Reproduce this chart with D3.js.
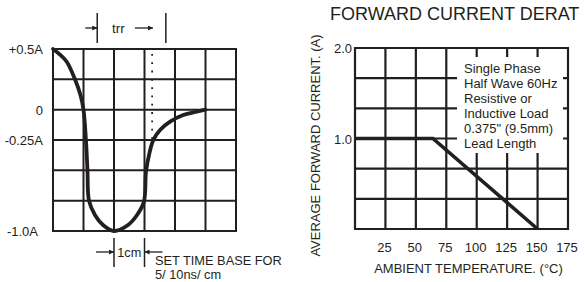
<!DOCTYPE html>
<html>
<head>
<meta charset="utf-8">
<script src="https://cdn.jsdelivr.net/npm/d3@7"></script>
<style>
  html, body { margin: 0; padding: 0; background: #fff; }
  svg { display: block; font-family: "Liberation Sans", Arial, sans-serif; }
</style>
</head>
<body>
<svg id="chart" width="584" height="282"></svg>
<script>
// ---------- Data: left chart (reverse recovery waveform) ----------
const waveX = [0, 0.2, 0.45, 0.72, 0.9, 1.0, 1.08, 1.13, 1.18, 1.38, 1.64, 2.0, 2.46, 2.75, 2.98, 3.05, 3.16, 3.29, 3.51, 3.84, 4.27, 4.71, 5.0];
const waveY = [0.5, 0.46, 0.395, 0.25, 0.12, 0, -0.25, -0.5, -0.75, -0.87, -0.95, -1.0, -0.95, -0.87, -0.76, -0.51, -0.36, -0.25, -0.167, -0.099, -0.044, -0.017, 0];
const leftTickVals = [0.5, 0, -0.25, -1.0];
const leftTickLabels = ["+0.5A", "0", "-0.25A", "-1.0A"];
const leftXDivs = [0, 1, 2, 3, 4, 5, 6];
const leftYDivs = [0.5, 0.25, 0, -0.25, -0.5, -0.75, -1.0];
const dottedX = 3.25;
const trrStart = 1.45, trrEnd = 3.7;
const oneCmStart = 2, oneCmEnd = 3;

// ---------- Data: right chart (forward current derating) ----------
const derateTemp = [0, 64, 150];
const derateCurrent = [1.0, 1.0, 0];
const tempTicks = [25, 50, 75, 100, 125, 150, 175];
const tempGrid = [0, 25, 50, 75, 100, 125, 150, 175];
const currentGrid = [0, 1/3, 2/3, 1, 4/3, 5/3, 2];
const currentTickVals = [2.0, 1.0];
const currentTickLabels = ["2.0", "1.0"];
const noteLines = ["Single Phase", "Half Wave 60Hz", "Resistive or", "Inductive Load", "0.375\" (9.5mm)", "Lead Length"];

const INK = "#231f20";
const svg = d3.select("#chart");

// ---------- Left chart ----------
const xL = d3.scaleLinear().domain([0, 6]).range([53, 236]);
const yL = d3.scaleLinear().domain([-1, 0.5]).range([231, 49]);
const gL = svg.append("g");

gL.selectAll("line.vx").data(leftXDivs).join("line")
  .attr("x1", d => xL(d)).attr("x2", d => xL(d))
  .attr("y1", yL(0.5)).attr("y2", yL(-1))
  .attr("stroke", INK).attr("stroke-width", 2);
gL.selectAll("line.hy").data(leftYDivs).join("line")
  .attr("y1", d => yL(d)).attr("y2", d => yL(d))
  .attr("x1", xL(0) - 1).attr("x2", xL(6) + 1)
  .attr("stroke", INK).attr("stroke-width", 2);

// dotted marker
gL.append("line")
  .attr("x1", xL(dottedX)).attr("x2", xL(dottedX))
  .attr("y1", yL(0.5) + 5).attr("y2", yL(-0.25))
  .attr("stroke", INK).attr("stroke-width", 1.8)
  .attr("stroke-dasharray", "1.8,6.5");

// waveform
const wave = waveX.map((x, i) => [x, waveY[i]]);
gL.append("path")
  .datum(wave)
  .attr("d", d3.line().x(d => xL(d[0])).y(d => yL(d[1])).curve(d3.curveCatmullRom.alpha(0.5)))
  .attr("fill", "none").attr("stroke", INK).attr("stroke-width", 3.8)
  .attr("stroke-linecap", "round");

// y labels
gL.selectAll("text.yl").data(leftTickVals).join("text")
  .attr("x", (d, i) => i === 3 ? 38 : 43)
  .attr("y", d => yL(d) + 5)
  .attr("text-anchor", "end")
  .attr("font-size", 13).attr("fill", INK)
  .text((d, i) => leftTickLabels[i]);

// arrow marker
const defs = svg.append("defs");
defs.append("marker").attr("id", "ah")
  .attr("viewBox", "0 0 10 10").attr("refX", 10).attr("refY", 5)
  .attr("markerWidth", 7).attr("markerHeight", 5).attr("markerUnits", "userSpaceOnUse")
  .attr("orient", "auto")
  .append("path").attr("d", "M0,0 L10,5 L0,10 Z").attr("fill", INK);

// trr annotation
const trrY = 28;
[trrStart, trrEnd].forEach(v => {
  gL.append("line").attr("x1", xL(v)).attr("x2", xL(v)).attr("y1", 13).attr("y2", 43)
    .attr("stroke", INK).attr("stroke-width", 1.5);
});
gL.append("line").attr("x1", xL(trrStart) - 12).attr("x2", xL(trrStart)).attr("y1", trrY).attr("y2", trrY)
  .attr("stroke", INK).attr("stroke-width", 1.3).attr("marker-end", "url(#ah)");
gL.append("line").attr("x1", 135).attr("x2", 153).attr("y1", trrY).attr("y2", trrY)
  .attr("stroke", INK).attr("stroke-width", 1.3).attr("marker-end", "url(#ah)");
gL.append("text").attr("x", 112).attr("y", 33).attr("font-size", 13.5).attr("fill", INK).text("trr");

// 1cm annotation
const cmY = 252;
[oneCmStart, oneCmEnd].forEach(v => {
  gL.append("line").attr("x1", xL(v)).attr("x2", xL(v)).attr("y1", 238).attr("y2", 267)
    .attr("stroke", INK).attr("stroke-width", 1.5);
});
gL.append("line").attr("x1", xL(oneCmStart) - 18).attr("x2", xL(oneCmStart)).attr("y1", cmY).attr("y2", cmY)
  .attr("stroke", INK).attr("stroke-width", 1.3).attr("marker-end", "url(#ah)");
gL.append("line").attr("x1", xL(oneCmEnd) + 18).attr("x2", xL(oneCmEnd)).attr("y1", cmY).attr("y2", cmY)
  .attr("stroke", INK).attr("stroke-width", 1.3).attr("marker-end", "url(#ah)");
gL.append("text").attr("x", (xL(oneCmStart) + xL(oneCmEnd)) / 2).attr("y", 257)
  .attr("text-anchor", "middle").attr("font-size", 12.7).attr("fill", INK).text("1cm");
gL.append("text").attr("x", 155).attr("y", 265).attr("font-size", 12.8).attr("fill", INK).text("SET TIME BASE FOR");
gL.append("text").attr("x", 155).attr("y", 279).attr("font-size", 12.8).attr("fill", INK).text("5/ 10ns/ cm");

// ---------- Right chart ----------
const xR = d3.scaleLinear().domain([0, 175]).range([355, 568]);
const yR = d3.scaleLinear().domain([0, 2]).range([229, 48]);
const gR = svg.append("g");

gR.selectAll("line.vx").data(tempGrid).join("line")
  .attr("x1", d => xR(d)).attr("x2", d => xR(d))
  .attr("y1", yR(2) - 1).attr("y2", yR(0) + 1)
  .attr("stroke", INK).attr("stroke-width", 2.2);
gR.selectAll("line.hy").data(currentGrid).join("line")
  .attr("y1", d => yR(d)).attr("y2", d => yR(d))
  .attr("x1", xR(0) - 1).attr("x2", xR(175) + 1)
  .attr("stroke", INK).attr("stroke-width", 2.2);

// note box (white, covering grid)
gR.append("rect").attr("x", 457).attr("y", 57).attr("width", 106).attr("height", 96).attr("fill", "#fff");
gR.selectAll("text.note").data(noteLines).join("text")
  .attr("x", 464).attr("y", (d, i) => 73 + i * 15)
  .attr("font-size", 13).attr("fill", INK)
  .text(d => d);

// derating line
const derate = derateTemp.map((t, i) => [t, derateCurrent[i]]);
gR.append("path").datum(derate)
  .attr("d", d3.line().x(d => xR(d[0])).y(d => yR(d[1])))
  .attr("fill", "none").attr("stroke", INK).attr("stroke-width", 3.6);

// axis labels
gR.selectAll("text.xt").data(tempTicks).join("text")
  .attr("x", d => xR(d) - 1).attr("y", 252)
  .attr("text-anchor", "middle").attr("font-size", 13).attr("fill", INK)
  .text(d => d);
gR.selectAll("text.yt").data(currentTickVals).join("text")
  .attr("x", 352).attr("y", d => yR(d) + 5)
  .attr("text-anchor", "end").attr("font-size", 13).attr("fill", INK)
  .text((d, i) => currentTickLabels[i]);

gR.append("text").attr("x", 468.5).attr("y", 273)
  .attr("text-anchor", "middle").attr("font-size", 13).attr("fill", INK)
  .text("AMBIENT TEMPERATURE. (°C)");
gR.append("text")
  .attr("transform", "translate(320,145.5) rotate(-90)")
  .attr("text-anchor", "middle").attr("font-size", 13).attr("fill", INK)
  .text("AVERAGE FORWARD CURRENT. (A)");

svg.append("text").attr("x", 330).attr("y", 20)
  .attr("font-size", 18).attr("fill", INK)
  .text("FORWARD CURRENT DERAT");
</script>
</body>
</html>
